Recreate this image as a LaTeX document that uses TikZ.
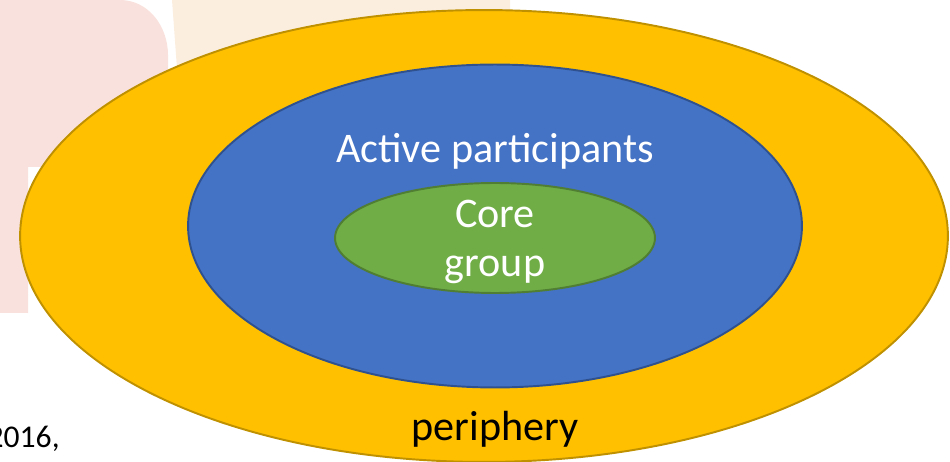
\documentclass[tikz,border=0pt]{standalone}
\usepackage{fontspec}
\setmainfont{Carlito}
\usetikzlibrary{shapes.geometric}
\definecolor{goldfill}{HTML}{FFC000}
\definecolor{golddraw}{HTML}{BF9000}
\definecolor{bluefill}{HTML}{4472C4}
\definecolor{bluedraw}{HTML}{2F528F}
\definecolor{greenfill}{HTML}{70AD47}
\definecolor{greendraw}{HTML}{507E32}
\definecolor{markpink}{HTML}{F9E2DE}
\definecolor{markbeige}{HTML}{FBEEDF}

\begin{document}
\begin{tikzpicture}[x=0.02cm,y=-0.02cm,
    ring/.style={ellipse,line width=1.1pt,inner sep=0pt},
    lbl/.style={font=\fontsize{24}{29}\selectfont,anchor=base,inner sep=0pt}]
    \useasboundingbox (0,0) rectangle (950,462);
    % faint logo in the background
    \fill[markpink] (0,0) -- (120,0) to[out=0,in=90] (168,55) -- (168,167)
        -- (28,167) -- (28,313) -- (0,313) -- cycle;
    \fill[markbeige] (172,0) -- (510,0) -- (510,25) to[out=180,in=0] (300,60)
        to[out=180,in=20] (180,110) -- cycle;
    \node[lbl,anchor=base east,font=\fontsize{18}{22}\selectfont] (year) at (60,447) {2016,};
    % rings
    \node[ring,draw=golddraw,fill=goldfill,minimum width=18.56cm,minimum height=9.04cm] (periph) at (484,236) {};
    \node[ring,draw=bluedraw,fill=bluefill,minimum width=12.28cm,minimum height=6.46cm] (active) at (495,226) {};
    \node[ring,draw=greendraw,fill=greenfill,minimum width=6.4cm,minimum height=2.2cm] (core) at (495,238) {};
    % labels
    \node[lbl,text=white] (activetxt) at (495,163) {Active participants};
    \node[lbl,text=white] (coretxt) at (495,228) {Core};
    \node[lbl,text=white] (grouptxt) at (495,277) {group};
    \node[lbl] (periphtxt) at (495,440) {periphery};
\end{tikzpicture}
\end{document}
